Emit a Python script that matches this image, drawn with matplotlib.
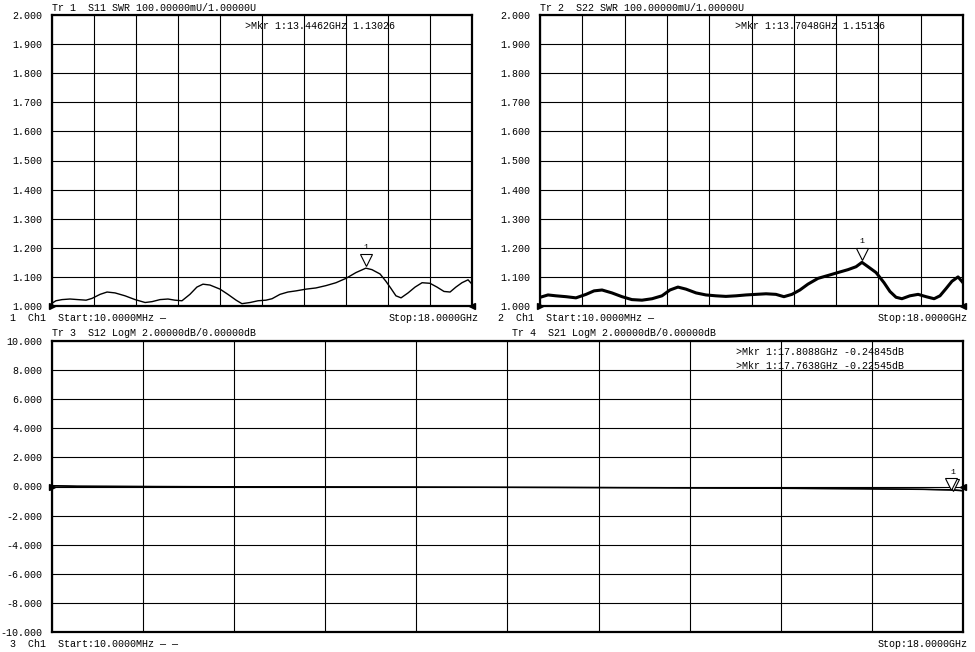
import matplotlib
matplotlib.use("Agg")
import matplotlib.pyplot as plt
from matplotlib.transforms import ScaledTranslation

# ---- data (GHz / SWR / dB) ----
s11_freq = [0.01, 0.17, 0.43, 0.77, 1.11, 1.46, 1.71, 2.06, 2.36, 2.70, 3.13, 3.56, 3.99,
            4.29, 4.63, 4.97, 5.27, 5.57, 5.91, 6.21, 6.47, 6.77, 7.20, 7.54, 7.89, 8.14,
            8.49, 8.83, 9.17, 9.43, 9.77, 10.11, 10.46, 10.89, 11.31, 11.74, 12.17, 12.60,
            13.03, 13.45, 13.71, 14.06, 14.31, 14.53, 14.74, 14.96, 15.26, 15.56, 15.86,
            16.20, 16.50, 16.80, 17.06, 17.31, 17.57, 17.83, 18.0]
s11_swr = [1.010, 1.018, 1.022, 1.024, 1.022, 1.020, 1.026, 1.040, 1.048, 1.045, 1.035,
           1.022, 1.012, 1.015, 1.022, 1.024, 1.020, 1.018, 1.040, 1.065, 1.075, 1.072,
           1.058, 1.040, 1.020, 1.008, 1.012, 1.018, 1.020, 1.025, 1.040, 1.048, 1.052,
           1.058, 1.062, 1.070, 1.080, 1.095, 1.115, 1.130, 1.125, 1.110, 1.085, 1.060,
           1.035, 1.028, 1.045, 1.065, 1.080, 1.078, 1.065, 1.050, 1.048, 1.065, 1.080,
           1.090, 1.075]

s22_freq = [0.01, 0.34, 0.68, 1.11, 1.53, 1.96, 2.30, 2.64, 3.06, 3.49, 3.91, 4.34, 4.77,
            5.19, 5.53, 5.87, 6.21, 6.64, 7.06, 7.49, 7.91, 8.34, 8.77, 9.19, 9.62, 10.04,
            10.38, 10.72, 11.06, 11.40, 11.83, 12.26, 12.68, 13.11, 13.45, 13.70, 13.96,
            14.30, 14.64, 14.89, 15.15, 15.40, 15.74, 16.09, 16.43, 16.77, 17.02, 17.28,
            17.53, 17.79, 18.0]
s22_swr = [1.030, 1.038, 1.035, 1.032, 1.028, 1.040, 1.052, 1.055, 1.045, 1.032, 1.022,
           1.020, 1.025, 1.035, 1.055, 1.065, 1.058, 1.045, 1.038, 1.035, 1.033, 1.035,
           1.038, 1.040, 1.042, 1.040, 1.032, 1.040, 1.055, 1.075, 1.095, 1.105, 1.115,
           1.125, 1.135, 1.150, 1.135, 1.115, 1.080, 1.050, 1.030, 1.025, 1.035, 1.040,
           1.032, 1.025, 1.035, 1.060, 1.085, 1.100, 1.080]

loss_freq = [0.01, 0.5, 2.0, 4.0, 6.0, 8.0, 10.0, 12.0, 14.0, 16.0, 17.2, 17.8, 18.0]
s12_db = [0.06, 0.02, 0.00, -0.02, -0.03, -0.05, -0.07, -0.09, -0.12, -0.16, -0.20, -0.248, -0.30]
s21_db = [0.04, 0.01, -0.01, -0.02, -0.04, -0.05, -0.06, -0.08, -0.11, -0.15, -0.19, -0.225, -0.28]

swr_ticks = [1.0, 1.1, 1.2, 1.3, 1.4, 1.5, 1.6, 1.7, 1.8, 1.9, 2.0]
db_ticks = [-10, -8, -6, -4, -2, 0, 2, 4, 6, 8, 10]
freq_grid = [0, 1.8, 3.6, 5.4, 7.2, 9.0, 10.8, 12.6, 14.4, 16.2, 18.0]

mkr_s11 = (13.4462, 1.13026)
mkr_s22 = (13.7048, 1.15136)
mkr_s12 = (17.8088, -0.24845)
mkr_s21 = (17.7638, -0.22545)

FONT = "Liberation Mono"
FS = 7.2
W, H = 975, 652

fig = plt.figure(figsize=(W / 100, H / 100), dpi=100)
fig.patch.set_facecolor("white")


def box(x0, y0, x1, y1):
    return [x0 / W, 1 - y1 / H, (x1 - x0) / W, (y1 - y0) / H]


def txt(x, y, s, ha="left"):
    fig.text(x / W, 1 - y / H, s, ha=ha, va="center", fontsize=FS, family=FONT)


def setup(ax, ylim, yticks):
    ax.set_xlim(0, 18)
    ax.set_ylim(*ylim)
    ax.set_xticks(freq_grid)
    ax.set_yticks(yticks)
    ax.set_yticklabels(["%.3f" % v for v in yticks], family=FONT, fontsize=FS)
    ax.set_xticklabels([])
    ax.tick_params(length=0, pad=7)
    ax.grid(True, color="black", lw=0.8)
    for sp in ax.spines.values():
        sp.set_linewidth(1.6)


def marker(ax, x, y, up=6, label=True):
    off = ScaledTranslation(0, up / 72, fig.dpi_scale_trans)
    ax.plot([x], [y], marker="v", ms=9, mfc="white", mec="black", mew=0.8,
            transform=ax.transData + off, clip_on=False, zorder=5)
    if label:
        off2 = ScaledTranslation(0, (up + 8.5) / 72, fig.dpi_scale_trans)
        ax.text(x, y, "1", transform=ax.transData + off2, ha="center", va="center",
                fontsize=6, family=FONT)


def ref_arrows(ax, y):
    ax.plot([0], [y], marker=">", ms=5, color="black", clip_on=False, zorder=6)
    ax.plot([18], [y], marker="<", ms=5, color="black", clip_on=False, zorder=6)


# top-left: S11
ax1 = fig.add_axes(box(52, 15, 472, 306))
setup(ax1, (1.0, 2.0), swr_ticks)
ax1.plot(s11_freq, s11_swr, color="black", lw=1.0)
marker(ax1, *mkr_s11)
ref_arrows(ax1, 1.0)

# top-right: S22 (noisy trace -> heavier line)
ax2 = fig.add_axes(box(540, 15, 963, 306))
setup(ax2, (1.0, 2.0), swr_ticks)
ax2.plot(s22_freq, s22_swr, color="black", lw=2.2)
marker(ax2, *mkr_s22)
ref_arrows(ax2, 1.0)

# bottom: S12 / S21 (both markers share one "1" label)
ax3 = fig.add_axes(box(52, 341, 963, 632))
setup(ax3, (-10, 10), db_ticks)
ax3.plot(loss_freq, s12_db, color="black", lw=1.0)
ax3.plot(loss_freq, s21_db, color="black", lw=1.0)
marker(ax3, *mkr_s12, up=4)
marker(ax3, *mkr_s21, up=4, label=False)
ref_arrows(ax3, 0.0)

# header / footer text
txt(52, 8, "Tr 1  S11 SWR 100.00000mU/1.00000U")
txt(245, 26, ">Mkr 1:13.4462GHz 1.13026")
txt(10, 318, "1  Ch1  Start:10.0000MHz \u2014")
txt(479, 318, "Stop:18.0000GHz", ha="right")

txt(540, 8, "Tr 2  S22 SWR 100.00000mU/1.00000U")
txt(735, 26, ">Mkr 1:13.7048GHz 1.15136")
txt(498, 318, "2  Ch1  Start:10.0000MHz \u2014")
txt(968, 318, "Stop:18.0000GHz", ha="right")

txt(52, 333, "Tr 3  S12 LogM 2.00000dB/0.00000dB")
txt(512, 333, "Tr 4  S21 LogM 2.00000dB/0.00000dB")
txt(736, 352, ">Mkr 1:17.8088GHz -0.24845dB")
txt(736, 366, ">Mkr 1:17.7638GHz -0.22545dB")
txt(10, 644, "3  Ch1  Start:10.0000MHz \u2014 \u2014")
txt(968, 644, "Stop:18.0000GHz", ha="right")

fig.savefig("out.png", dpi=100, facecolor="white")
